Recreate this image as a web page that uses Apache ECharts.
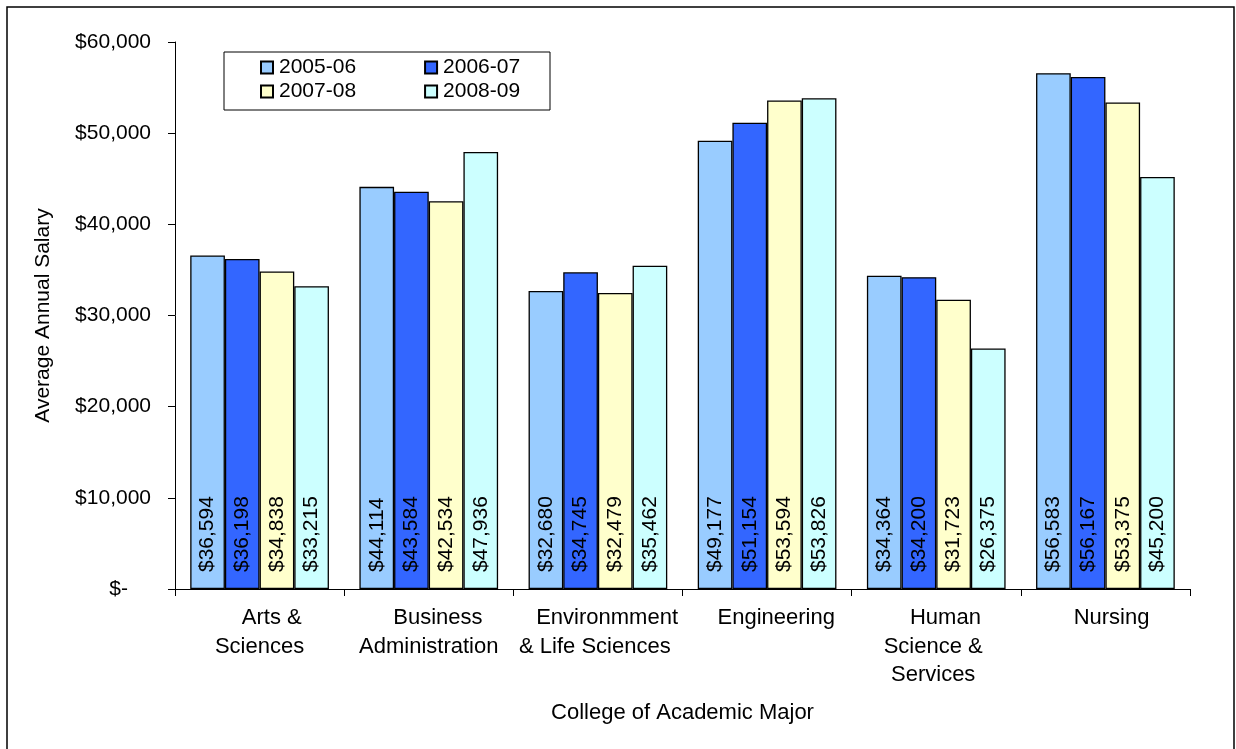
<!DOCTYPE html>
<html>
<head>
<meta charset="utf-8">
<script src="https://cdn.jsdelivr.net/npm/echarts@6/dist/echarts.min.js"></script>
<style>
  html, body { margin: 0; padding: 0; background: #fff; }
  #chart { width: 1236px; height: 749px; }
</style>
</head>
<body>
<div id="chart"></div>
<script>
// Colleges (axis order) and the wrapped tick labels drawn under each group
const colleges = ['Arts & Sciences', 'Business Administration', 'Environmment & Life Sciences',
                  'Engineering', 'Human Science & Services', 'Nursing'];
const collegeTickLabels = ['    Arts &\nSciences', '   Business\nAdministration', '   Environmment\n& Life Sciences ',
                           '   Engineering', '   Human\nScience & \nServices ', '  Nursing'];

// Average annual salary by academic year
const years = ['2005-06', '2006-07', '2007-08', '2008-09'];
const salary0506 = [36594, 44114, 32680, 49177, 34364, 56583];
const salary0607 = [36198, 43584, 34745, 51154, 34200, 56167];
const salary0708 = [34838, 42534, 32479, 53594, 31723, 53375];
const salary0809 = [33215, 47936, 35462, 53826, 26375, 45200];

// Salary axis ticks
const salaryMin = 0;
const salaryMax = 60000;
const salaryStep = 10000;

const yearColors = ['#99CCFF', '#3366FF', '#FFFFCC', '#CCFFFF'];
const FONT = '"Liberation Sans", Arial, sans-serif';

const fmtMoney = v => '$' + Math.round(v).toLocaleString('en-US');

function barSeries(name, data, color) {
  return {
    name: name,
    type: 'bar',
    data: data,
    barGap: '0%',
    barCategoryGap: '18%',
    itemStyle: { color: color, borderColor: '#000', borderWidth: 1.3 },
    label: {
      show: true,
      position: 'insideBottom',
      distance: 17,
      rotate: 90,
      align: 'left',
      verticalAlign: 'middle',
      color: '#000',
      fontFamily: FONT,
      fontSize: 21,
      formatter: p => fmtMoney(p.value)
    },
    emphasis: { disabled: true }
  };
}

const legendBase = {
  left: 260,
  padding: 0,
  itemWidth: 12,
  itemHeight: 12,
  itemGap: 68,
  icon: 'rect',
  selectedMode: false,
  textStyle: { fontFamily: FONT, fontSize: 21, color: '#000', lineHeight: 21, padding: [0, 0, 0, 1] }
};

const chart = echarts.init(document.getElementById('chart'), null, { renderer: 'canvas' });
chart.setOption({
  animation: false,
  backgroundColor: '#fff',
  textStyle: { fontFamily: FONT },
  grid: { left: 175, right: 46, top: 42, bottom: 160 },
  graphic: [
    {
      type: 'rect', z: -10,
      shape: { x: 7, y: 7, width: 1227, height: 770 },
      style: { fill: '#fff', stroke: '#000', lineWidth: 1.5 }
    },
    {
      type: 'rect', z: 1,
      shape: { x: 224, y: 52, width: 326, height: 58 },
      style: { fill: '#fff', stroke: '#000', lineWidth: 1 }
    }
  ],
  legend: [
    Object.assign({}, legendBase, { top: 57, data: years.slice(0, 2), z: 5 }),
    Object.assign({}, legendBase, { top: 81, data: years.slice(2, 4), z: 5 })
  ],
  xAxis: {
    type: 'category',
    data: colleges,
    name: 'College of Academic Major',
    nameLocation: 'middle',
    nameGap: 113,
    nameTextStyle: { fontFamily: FONT, fontSize: 22, color: '#000' },
    axisLine: { lineStyle: { color: '#000', width: 1 } },
    axisTick: { show: true, length: 7, lineStyle: { color: '#000' } },
    axisLabel: {
      interval: 0,
      margin: 15,
      color: '#000',
      fontFamily: FONT,
      fontSize: 22,
      lineHeight: 28.5,
      formatter: (v, i) => collegeTickLabels[i]
    }
  },
  yAxis: {
    type: 'value',
    min: salaryMin,
    max: salaryMax,
    interval: salaryStep,
    name: 'Average Annual Salary',
    nameLocation: 'middle',
    nameRotate: 90,
    nameGap: 121,
    nameTextStyle: { fontFamily: FONT, fontSize: 21, color: '#000' },
    splitLine: { show: false },
    axisLine: { show: true, lineStyle: { color: '#000', width: 1 } },
    axisTick: { show: true, length: 7, lineStyle: { color: '#000' } },
    axisLabel: {
      margin: 24,
      color: '#000',
      fontFamily: FONT,
      fontSize: 21,
      formatter: v => v === 0 ? '{z|$-}' : fmtMoney(v),
      rich: { z: { fontFamily: FONT, fontSize: 21, color: '#000', padding: [0, 23, 0, 0] } }
    }
  },
  series: [
    barSeries(years[0], salary0506, yearColors[0]),
    barSeries(years[1], salary0607, yearColors[1]),
    barSeries(years[2], salary0708, yearColors[2]),
    barSeries(years[3], salary0809, yearColors[3])
  ]
});
</script>
</body>
</html>
